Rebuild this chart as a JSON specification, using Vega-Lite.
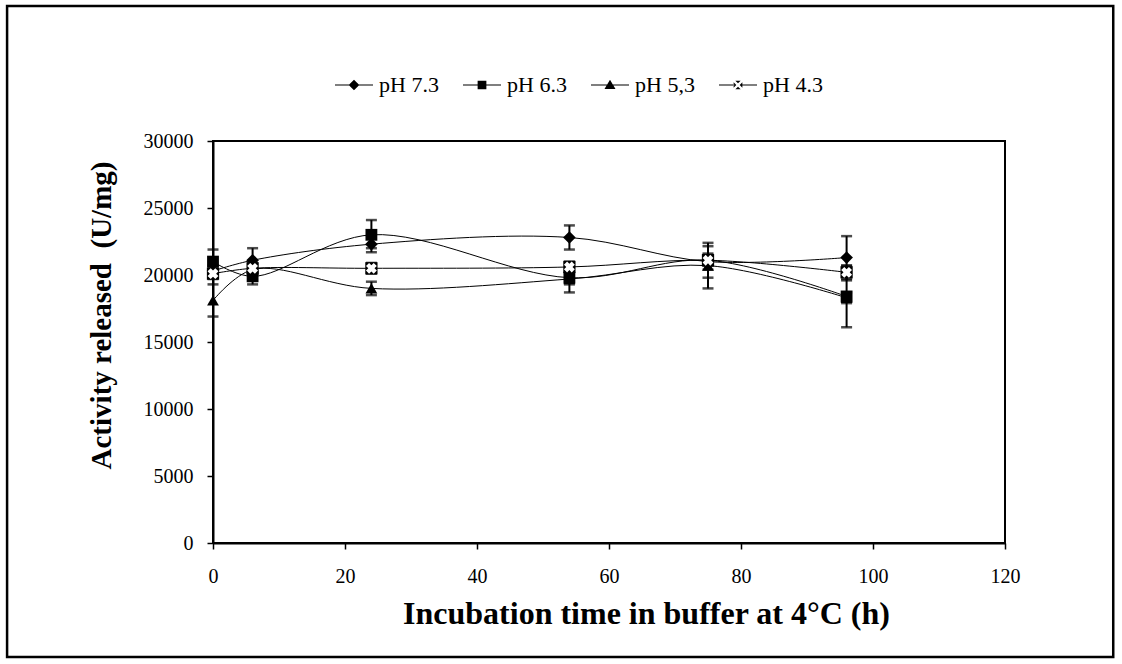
{
  "$schema": "https://vega.github.io/schema/vega-lite/v6.json",
  "width": 792,
  "height": 402,
  "autosize": {"type": "none"},
  "padding": {"left": 213, "top": 141, "right": 117, "bottom": 121},
  "background": "white",
  "config": {
    "view": {"stroke": "black", "strokeWidth": 2},
    "axis": {
      "grid": false,
      "domainColor": "black",
      "domainWidth": 2,
      "tickColor": "black",
      "tickWidth": 1.5,
      "tickSize": 6,
      "labelFlush": false,
      "labelFont": "Liberation Serif",
      "labelFontSize": 20,
      "labelColor": "black",
      "titleFont": "Liberation Serif",
      "titleFontWeight": "bold",
      "titleColor": "black"
    },
    "legend": {
      "labelFont": "Liberation Serif",
      "labelFontSize": 22,
      "labelColor": "black"
    }
  },
  "datasets": {
    "pts": [
      {"series": "pH 7.3", "t": 0, "v": 20300, "lo": 19900, "hi": 20700},
      {"series": "pH 7.3", "t": 6, "v": 21100, "lo": 20200, "hi": 22000},
      {"series": "pH 7.3", "t": 24, "v": 22300, "lo": 21700, "hi": 22900},
      {"series": "pH 7.3", "t": 54, "v": 22800, "lo": 21900, "hi": 23700},
      {"series": "pH 7.3", "t": 75, "v": 21000, "lo": 20400, "hi": 21600},
      {"series": "pH 7.3", "t": 96, "v": 21300, "lo": 19700, "hi": 22900},
      {"series": "pH 6.3", "t": 0, "v": 21000, "lo": 20100, "hi": 21900},
      {"series": "pH 6.3", "t": 6, "v": 19900, "lo": 19300, "hi": 20500},
      {"series": "pH 6.3", "t": 24, "v": 23000, "lo": 22000, "hi": 24100},
      {"series": "pH 6.3", "t": 54, "v": 19800, "lo": 18700, "hi": 20900},
      {"series": "pH 6.3", "t": 75, "v": 21100, "lo": 19800, "hi": 22150},
      {"series": "pH 6.3", "t": 96, "v": 18400, "lo": 16100, "hi": 20700},
      {"series": "pH 5,3", "t": 0, "v": 18100, "lo": 16900, "hi": 19300},
      {"series": "pH 5,3", "t": 6, "v": 20400, "lo": 20000, "hi": 20800},
      {"series": "pH 5,3", "t": 24, "v": 19000, "lo": 18500, "hi": 19500},
      {"series": "pH 5,3", "t": 54, "v": 19700, "lo": 19300, "hi": 20100},
      {"series": "pH 5,3", "t": 75, "v": 20700, "lo": 19000, "hi": 22400},
      {"series": "pH 5,3", "t": 96, "v": 18300, "lo": 17900, "hi": 18700},
      {"series": "pH 4.3", "t": 0, "v": 20100, "lo": 19700, "hi": 20500},
      {"series": "pH 4.3", "t": 6, "v": 20500, "lo": 20100, "hi": 20900},
      {"series": "pH 4.3", "t": 24, "v": 20500, "lo": 20100, "hi": 20900},
      {"series": "pH 4.3", "t": 54, "v": 20600, "lo": 20200, "hi": 21000},
      {"series": "pH 4.3", "t": 75, "v": 21100, "lo": 20700, "hi": 21500},
      {"series": "pH 4.3", "t": 96, "v": 20200, "lo": 19600, "hi": 20700}
    ]
  },
  "data": {"name": "pts"},
  "encoding": {
    "x": {
      "field": "t", "type": "quantitative",
      "scale": {"domain": [0, 120], "nice": false, "zero": false},
      "axis": {"values": [0, 20, 40, 60, 80, 100, 120], "title": "Incubation time in buffer at 4°C (h)", "labelPadding": 17, "titleFontSize": 32, "titleX": 433, "titleY": 70, "titleBaseline": "middle", "titleAlign": "center"}
    },
    "y": {
      "field": "v", "type": "quantitative",
      "scale": {"domain": [0, 30000], "nice": false, "zero": false},
      "axis": {"values": [0, 5000, 10000, 15000, 20000, 25000, 30000], "format": "d", "title": "Activity released\u00a0 (U/mg)", "labelPadding": 14, "titleFontSize": 29, "titleX": -112, "titleY": 174, "titleBaseline": "middle", "titleAlign": "center", "titleAngle": 270}
    }
  },
  "layer": [
    {
      "mark": {"type": "rect", "fill": null, "stroke": "black", "strokeWidth": 2.5, "clip": false},
      "transform": [{"filter": "datum.series == 'pH 7.3' && datum.t == 0"}],
      "encoding": {
        "x": {"datum": -31.2, "type": "quantitative"},
        "x2": {"datum": 136.4},
        "y": {"datum": 40075, "type": "quantitative"},
        "y2": {"datum": -8500}
      }
    },
    {
      "mark": {"type": "line", "interpolate": "catmull-rom", "color": "black", "strokeWidth": 1},
      "encoding": {"detail": {"field": "series"}}
    },
    {
      "mark": {"type": "rule", "color": "black", "strokeWidth": 2},
      "encoding": {"y": {"field": "lo", "type": "quantitative"}, "y2": {"field": "hi"}}
    },
    {
      "mark": {"type": "tick", "orient": "horizontal", "color": "black", "thickness": 2.5, "size": 11},
      "encoding": {"y": {"field": "lo", "type": "quantitative"}}
    },
    {
      "mark": {"type": "tick", "orient": "horizontal", "color": "black", "thickness": 2.5, "size": 11},
      "encoding": {"y": {"field": "hi", "type": "quantitative"}}
    },
    {
      "transform": [{"filter": "datum.series == 'pH 7.3'"}],
      "mark": {"type": "point", "shape": "diamond", "filled": true, "color": "black", "size": 160, "opacity": 1}
    },
    {
      "transform": [{"filter": "datum.series == 'pH 6.3'"}],
      "mark": {"type": "point", "shape": "square", "filled": true, "color": "black", "size": 140, "opacity": 1}
    },
    {
      "transform": [{"filter": "datum.series == 'pH 5,3'"}],
      "mark": {"type": "point", "shape": "triangle-up", "filled": true, "color": "black", "size": 140, "opacity": 1}
    },
    {
      "transform": [{"filter": "datum.series == 'pH 4.3'"}],
      "mark": {"type": "point", "shape": "square", "filled": true, "color": "black", "size": 150, "opacity": 1}
    },
    {
      "transform": [{"filter": "datum.series == 'pH 4.3'"}],
      "mark": {"type": "point", "shape": "cross", "angle": 45, "filled": true, "color": "white", "size": 120, "opacity": 1}
    },
    {
      "transform": [{"filter": "datum.t > 1000"}],
      "mark": {"type": "point", "filled": true, "color": "black", "size": 1444, "opacity": 1},
      "encoding": {
        "shape": {
          "field": "series", "type": "nominal",
          "scale": {
            "domain": ["pH 7.3", "pH 6.3", "pH 5,3", "pH 4.3"],
            "range": [
              "M-1,-0.03H1V0.03H-1ZM0,-0.28L0.28,0L0,0.28L-0.28,0Z",
              "M-1,-0.03H1V0.03H-1ZM-0.23,-0.23H0.23V0.23H-0.23Z",
              "M-1,-0.03H1V0.03H-1ZM0,-0.28L0.29,0.21H-0.29Z",
              "M-1,-0.03H-0.2V0.03H-1ZM0.2,-0.03H1V0.03H0.2ZM-0.14,-0.23H0.14L0,-0.09ZM0.23,-0.14V0.14L0.09,0ZM-0.14,0.23H0.14L0,0.09ZM-0.23,-0.14V0.14L-0.09,0Z"
            ]
          },
          "legend": {
            "orient": "none",
            "legendX": 122,
            "legendY": -75,
            "direction": "horizontal",
            "title": null,
            "symbolSize": 1444,
            "symbolFillColor": "black",
            "symbolStrokeColor": "black",
            "symbolStrokeWidth": 0,
            "symbolOpacity": 1,
            "labelOffset": 6,
            "columnPadding": 24
          }
        }
      }
    }
  ]
}
